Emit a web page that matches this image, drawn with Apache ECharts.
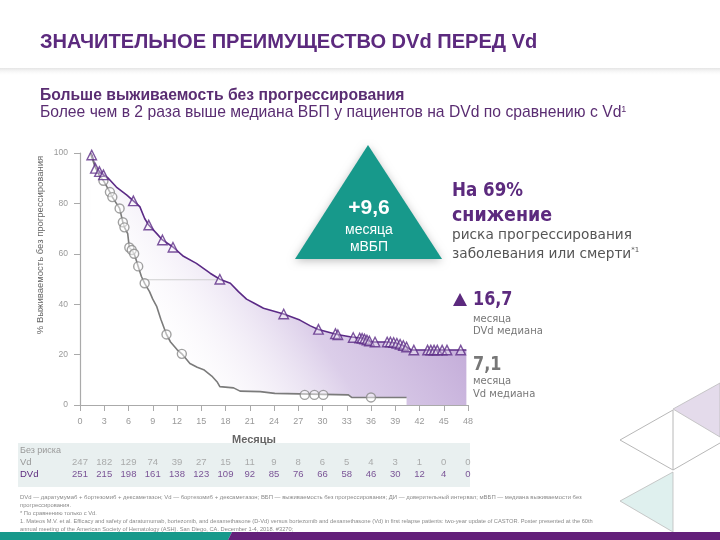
<!DOCTYPE html>
<html><head><meta charset="utf-8">
<script src="https://cdn.jsdelivr.net/npm/echarts@6/dist/echarts.min.js"></script>
<style>html,body{margin:0;padding:0;background:#fff}#c{width:720px;height:540px}</style>
</head><body><div id="c"></div>
<script>
// ---- data ----
const months = [0,3,6,9,12,15,18,21,24,27,30,33,36,39,42,45,48];
const vdAtRisk  = [247,182,129,74,39,27,15,11,9,8,6,5,4,3,1,0,0];
const dvdAtRisk = [251,215,198,161,138,123,109,92,85,76,66,58,46,30,12,4,0];
const riskRows = ['DVd','Vd'];
const dvdCurve = [[1.3,100],[1.5,99],[1.9,94],[2.4,92.6],[2.9,91.3],[3.5,90],[4.5,86.5],[5.8,83.3],[6.6,81],[7.4,78.7],[8.0,74],[8.5,71.4],[9.5,68],[10.2,65.5],[11.5,62.7],[12.8,59],[14.4,56.2],[16.1,52.3],[17.3,49.9],[18.6,48.3],[19.6,45],[20.6,42],[21.5,40.5],[22.7,38.4],[25.2,36.1],[27.2,33.7],[28.5,31.4],[29.5,30],[31.8,28],[33.4,27.1],[34.9,26.5],[36.1,25],[38,25],[39.2,24.5],[40.4,23],[41,21.8],[47.8,21.8]];
const vdCurve = [[1.3,100],[1.8,95],[2.4,91],[2.9,89],[3.7,84.5],[4.0,82.5],[4.5,80],[4.9,78],[5.3,72.5],[5.5,70.5],[5.9,68],[6.1,62.5],[6.4,61.5],[6.7,60],[7.0,57],[7.2,55],[7.6,51],[8.0,48.3],[8.6,45],[9.0,42],[9.5,39],[10.0,34],[10.7,28],[11.2,25],[12.0,22],[12.6,20.3],[13.6,16.5],[14.5,15],[15.3,14],[16.3,11.5],[17.0,9],[17.3,7.3],[19.0,6.8],[19.8,5.5],[22.3,5.3],[22.5,4.6],[24.1,4.6],[24.3,4.0],[33.2,4.0],[33.6,3.0],[40.4,3.0]];
const dvdCensored = [[1.45,99.2],[1.9,93.9],[2.4,92.6],[2.9,91.3],[6.6,81],[8.5,71.4],[10.2,65.5],[11.5,62.6],[17.3,49.9],[25.2,36.1],[29.5,30],[31.6,28.3],[31.9,27.9],[33.8,26.8],[34.6,26.6],[34.9,26.5],[35.2,26.2],[35.5,25.8],[35.8,25.4],[36.5,25],[38.0,25],[38.4,25],[38.8,24.8],[39.2,24.5],[39.6,24.1],[40.0,23.6],[40.4,23],[41.3,21.8],[43.0,21.8],[43.4,21.8],[43.8,21.8],[44.2,21.8],[44.8,21.8],[45.4,21.8],[47.1,21.8]];
const vdCensored = [[2.9,89],[3.7,84.5],[4.0,82.5],[4.9,78],[5.3,72.5],[5.5,70.5],[6.1,62.5],[6.4,61.5],[6.7,60],[7.2,55],[8.0,48.3],[10.7,28],[12.6,20.3],[27.8,4.0],[29.0,4.0],[30.1,4.0],[36.0,3.0]];
const medianLine = [[7.9,49.7],[17.2,49.7]];

const PURPLE = '#5c2a7e';
const SANS = "'Liberation Sans',Arial,sans-serif";
const GOTHIC = "'DejaVu Sans','Noto Sans',sans-serif";

const chart = echarts.init(document.getElementById('c'), null, {renderer:'canvas'});

// text placed at (x,y) top-left, optional horizontal squeeze
function txt(x,y,text,style,sx){return {type:'text',x:x,y:y,scaleX:sx||1,style:Object.assign({text:text,fill:'#666',font:'10px '+SANS,verticalAlign:'top'},style)};}

const foot = '#8a8a8a';
const FOOT = '5.8px '+SANS;
const graphics = [
  {type:'rect',shape:{x:0,y:68,width:720,height:8},style:{fill:new echarts.graphic.LinearGradient(0,0,0,1,[{offset:0,color:'#e4e4e4'},{offset:1,color:'rgba(255,255,255,0)'}])},z:-1},
  txt(40,32,'ЗНАЧИТЕЛЬНОЕ ПРЕИМУЩЕСТВО DVd ПЕРЕД Vd',{fill:PURPLE,font:'bold 21px '+SANS},0.955),
  txt(40,88,'Больше выживаемость без прогрессирования',{fill:'#5a2d72',font:'bold 15.7px '+SANS}),
  {type:'text',x:40,y:105,style:{verticalAlign:'top',rich:{a:{font:'15.7px '+SANS,fill:'#5a2d72'},s:{font:'9px '+SANS,fill:'#5a2d72',verticalAlign:'top',padding:[0,0,6,0]}},text:'{a|Более чем в 2 раза выше медиана ВБП у пациентов на DVd по сравнению с Vd}{s|1}'}},
  // teal triangle
  {type:'polygon',shape:{points:[[368,145],[295,259],[442,259]]},style:{fill:'#17998b',shadowBlur:8,shadowColor:'rgba(0,0,0,0.25)',shadowOffsetY:2}},
  {type:'text',x:369,y:198,style:{text:'+9,6',fill:'#fff',font:'bold 21px '+SANS,align:'center',verticalAlign:'top'}},
  {type:'text',x:369,y:223,style:{text:'месяца',fill:'#fff',font:'14px '+SANS,align:'center',verticalAlign:'top'}},
  {type:'text',x:369,y:240,style:{text:'мВБП',fill:'#fff',font:'14px '+SANS,align:'center',verticalAlign:'top'}},
  // right texts
  txt(452,182,'На 69%',{fill:PURPLE,font:'bold 19px '+GOTHIC},0.88),
  txt(452,207,'снижение',{fill:PURPLE,font:'bold 19px '+GOTHIC},0.92),
  txt(452,228,'риска прогрессирования',{fill:'#555',font:'13.7px '+GOTHIC}),
  {type:'text',x:452,y:247,style:{verticalAlign:'top',rich:{a:{font:'13.7px '+GOTHIC,fill:'#555'},s:{font:'7px '+GOTHIC,fill:'#555',verticalAlign:'top',padding:[0,0,7,0]}},text:'{a|заболевания или смерти}{s|*1}'}},
  {type:'polygon',shape:{points:[[460,293],[453,306],[467,306]]},style:{fill:PURPLE}},
  txt(473,290,'16,7',{fill:PURPLE,font:'bold 20px '+GOTHIC},0.8),
  txt(473,314,'месяца',{fill:'#777',font:'10px '+GOTHIC}),
  txt(473,326,'DVd медиана',{fill:'#777',font:'10px '+GOTHIC}),
  txt(473,355,'7,1',{fill:'#777',font:'bold 20px '+GOTHIC},0.8),
  txt(473,376,'месяца',{fill:'#777',font:'10px '+GOTHIC}),
  txt(473,389,'Vd медиана',{fill:'#777',font:'10px '+GOTHIC}),
  // stats
  txt(92,362,'ОР: 0,31;',{fill:'#666',font:'12.5px '+SANS}),
  txt(92,375,'95% ДИ: 0,25–0,40;',{fill:'#666',font:'12.5px '+SANS}),
  txt(92,388,'Р <0,0001',{fill:'#666',font:'12.5px '+SANS}),
  // y axis name
  {type:'text',x:40,y:245,rotation:Math.PI/2,style:{text:'% Выживаемость без прогрессирования',fill:'#666',font:'9.5px '+SANS,align:'center',verticalAlign:'middle'}},
  {type:'text',x:254,y:434,style:{text:'Месяцы',fill:'#666',font:'bold 11px '+SANS,align:'center',verticalAlign:'top'}},
  // risk table background
  {type:'rect',shape:{x:18,y:443,width:452,height:44},style:{fill:'#e9f0f0'},z:-2},
  txt(20,446,'Без риска',{fill:'#9a9a9a',font:'9px '+SANS}),
  // footnotes
  txt(20,494,'DVd — даратумумаб + бортезомиб + дексаметазон; Vd — бортезомиб + дексаметазон; ВБП — выживаемость без прогрессирования; ДИ — доверительный интервал; мВБП — медиана выживаемости без',{fill:foot,font:FOOT},1.02),
  txt(20,502,'прогрессирования.',{fill:foot,font:FOOT}),
  txt(20,510,'* По сравнению только с Vd.',{fill:foot,font:FOOT}),
  txt(20,518,'1. Mateos M.V. et al. Efficacy and safety of daratumumab, bortezomib, and dexamethasone (D-Vd) versus bortezomib and dexamethasone (Vd) in first relapse patients: two-year update of CASTOR. Poster presented at the 60th',{fill:foot,font:FOOT},0.985),
  txt(20,526,'annual meeting of the American Society of Hematology (ASH). San Diego, CA. December 1-4, 2018. #3270;',{fill:foot,font:FOOT},0.985),
  // decorative shapes
  {type:'polygon',shape:{points:[[673,409],[720,383],[720,437]]},style:{fill:'#e4dbeb',stroke:'#bbb',lineWidth:0.8}},
  {type:'polyline',shape:{points:[[720,443],[673,470],[620,440],[673,410],[673,470]]},style:{stroke:'#b8b8b8',lineWidth:1,fill:null}},
  {type:'polygon',shape:{points:[[620,501],[673,472],[673,532]]},style:{fill:'#dff0ee',stroke:'#bbb',lineWidth:0.8}},
  // bottom band
  {type:'polygon',shape:{points:[[0,532],[232,532],[228,540],[0,540]]},style:{fill:'#17998b'}},
  {type:'polygon',shape:{points:[[232,532],[720,532],[720,540],[228,540]]},style:{fill:'#63207a'}}
];

const option = {
  animation:false,
  backgroundColor:'#fff',
  graphic:graphics,
  grid:[{left:80,right:252,top:153,bottom:135},{left:80,right:252,top:456,height:24}],
  xAxis:[
    {type:'value',gridIndex:0,min:0,max:48,interval:3,
     axisLine:{lineStyle:{color:'#aaa',width:1.2}},axisTick:{length:6,lineStyle:{color:'#aaa'}},
     axisLabel:{color:'#999',fontSize:9,fontFamily:SANS,margin:12},splitLine:{show:false}},
    {type:'value',gridIndex:1,min:0,max:48,interval:3,show:false}
  ],
  yAxis:[
    {type:'value',gridIndex:0,min:0,max:100,interval:20,
     axisLine:{show:true,lineStyle:{color:'#aaa',width:1.2}},axisTick:{show:true,length:6,lineStyle:{color:'#aaa'}},
     axisLabel:{color:'#999',fontSize:8.5,fontFamily:SANS,margin:12},splitLine:{show:false}},
    {type:'category',gridIndex:1,data:riskRows,axisLine:{show:false},axisTick:{show:false},
     axisLabel:{interval:0,align:'left',margin:60,fontSize:9.5,fontFamily:SANS,color:function(v){return v==='DVd'?PURPLE:'#999';}}}
  ],
  series:[
    {type:'line',xAxisIndex:0,yAxisIndex:0,data:dvdCurve,symbol:'none',z:2,
     lineStyle:{color:'#5b2a86',width:1.6},
     areaStyle:{opacity:1,color:{type:'linear',x:1,y:0,x2:0,y2:1,colorStops:[{offset:0,color:'rgba(140,95,180,0.75)'},{offset:0.5,color:'rgba(190,165,215,0.55)'},{offset:0.8,color:'rgba(255,255,255,0.1)'},{offset:1,color:'rgba(255,255,255,0)'}]}}},
    {type:'line',xAxisIndex:0,yAxisIndex:0,data:vdCurve,symbol:'none',z:3,
     lineStyle:{color:'#7b7b7b',width:1.6},areaStyle:{color:'#fff',opacity:1}},
    {type:'line',xAxisIndex:0,yAxisIndex:0,data:medianLine,symbol:'none',z:4,lineStyle:{color:'#cfcfcf',width:1}},
    {type:'scatter',xAxisIndex:0,yAxisIndex:0,data:vdCensored,symbol:'circle',symbolSize:9,z:5,
     itemStyle:{color:'rgba(255,255,255,0.6)',borderColor:'#8a8a8a',borderWidth:1.4}},
    {type:'scatter',xAxisIndex:0,yAxisIndex:0,data:dvdCensored,symbol:'triangle',symbolSize:9.5,z:6,
     itemStyle:{color:'rgba(255,255,255,0.4)',borderColor:'#5b2a86',borderWidth:1.4}},
    {type:'scatter',xAxisIndex:1,yAxisIndex:1,symbolSize:1,itemStyle:{color:'rgba(0,0,0,0)'},
     data:months.map((m,i)=>[m,'Vd',vdAtRisk[i]]),
     label:{show:true,position:'inside',formatter:p=>p.value[2],color:'#999',fontSize:9.5,fontFamily:SANS}},
    {type:'scatter',xAxisIndex:1,yAxisIndex:1,symbolSize:1,itemStyle:{color:'rgba(0,0,0,0)'},
     data:months.map((m,i)=>[m,'DVd',dvdAtRisk[i]]),
     label:{show:true,position:'inside',formatter:p=>p.value[2],color:PURPLE,fontSize:9.5,fontFamily:SANS}}
  ]
};
chart.setOption(option);
</script></body></html>
